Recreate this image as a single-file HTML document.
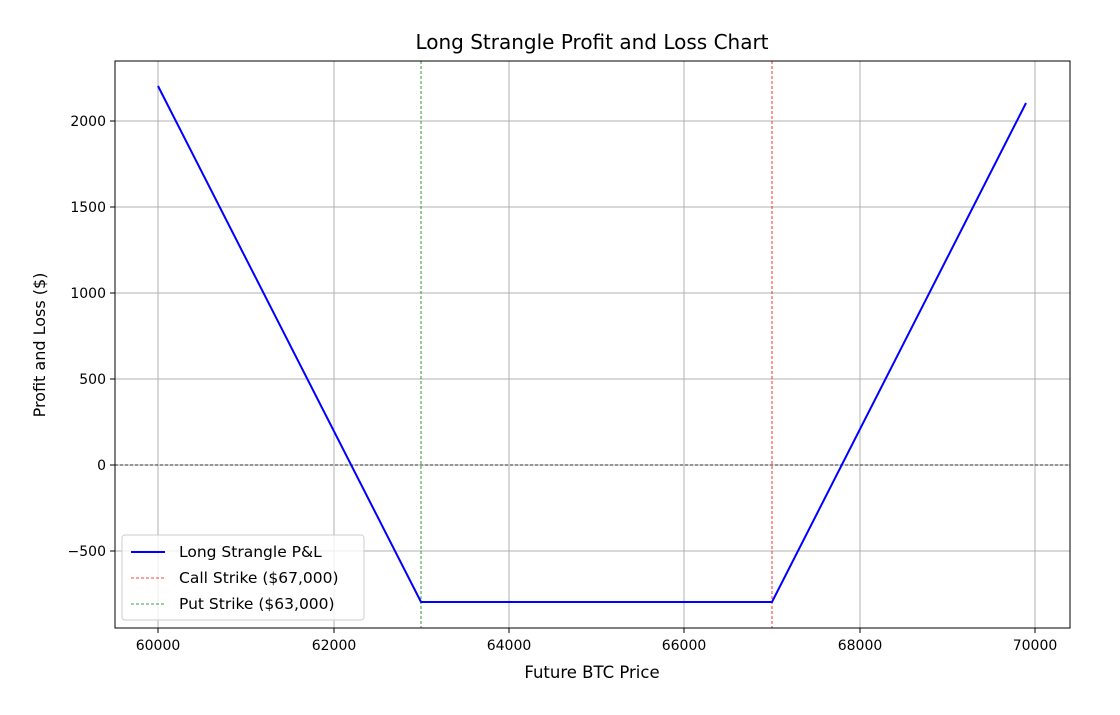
<!DOCTYPE html>
<html><head><meta charset="utf-8"><style>
body{margin:0;background:#fff}
svg text{font-family:"DejaVu Sans","Liberation Sans",sans-serif;fill:#000}
</style></head><body>
<svg width="1120" height="710" viewBox="0 0 1120 710" xmlns="http://www.w3.org/2000/svg">
<rect width="1120" height="710" fill="#fff"/>
<g stroke="#b0b0b0" stroke-width="1">
<line x1="158" y1="61" x2="158" y2="628"/>
<line x1="334" y1="61" x2="334" y2="628"/>
<line x1="509" y1="61" x2="509" y2="628"/>
<line x1="684" y1="61" x2="684" y2="628"/>
<line x1="860" y1="61" x2="860" y2="628"/>
<line x1="1035" y1="61" x2="1035" y2="628"/>
<line x1="115" y1="121" x2="1070" y2="121"/>
<line x1="115" y1="207" x2="1070" y2="207"/>
<line x1="115" y1="293" x2="1070" y2="293"/>
<line x1="115" y1="379" x2="1070" y2="379"/>
<line x1="115" y1="465" x2="1070" y2="465"/>
<line x1="115" y1="551" x2="1070" y2="551"/>
</g>
<line x1="115" y1="465" x2="1070" y2="465" stroke="#000" stroke-width="0.8" stroke-dasharray="3,2"/>
<line x1="772" y1="61" x2="772" y2="628" stroke="#ff0000" stroke-width="0.8" stroke-dasharray="3,2"/>
<line x1="421" y1="61" x2="421" y2="628" stroke="#008000" stroke-width="0.8" stroke-dasharray="3,2"/>
<polyline points="158,86 421,602 772,602 1026,103" fill="none" stroke="#0000ff" stroke-width="2"/>
<rect x="115" y="61" width="955" height="567" fill="none" stroke="#000" stroke-width="1"/>
<g stroke="#000">
<line x1="158" y1="628" x2="158" y2="633"/><line x1="334" y1="628" x2="334" y2="633"/><line x1="509" y1="628" x2="509" y2="633"/><line x1="684" y1="628" x2="684" y2="633"/><line x1="860" y1="628" x2="860" y2="633"/><line x1="1035" y1="628" x2="1035" y2="633"/>
<line x1="110" y1="121" x2="115" y2="121"/><line x1="110" y1="207" x2="115" y2="207"/><line x1="110" y1="293" x2="115" y2="293"/><line x1="110" y1="379" x2="115" y2="379"/><line x1="110" y1="465" x2="115" y2="465"/><line x1="110" y1="551" x2="115" y2="551"/>
</g>
<g font-size="14" text-anchor="middle">
<text x="158" y="650">60000</text><text x="334" y="650">62000</text><text x="509" y="650">64000</text><text x="684" y="650">66000</text><text x="860" y="650">68000</text><text x="1035" y="650">70000</text>
</g>
<g font-size="14" text-anchor="end">
<text x="106" y="126">2000</text><text x="106" y="212">1500</text><text x="106" y="298">1000</text><text x="106" y="384">500</text><text x="106" y="470">0</text><text x="106" y="556">−500</text>
</g>
<text x="592" y="678" font-size="16.5" text-anchor="middle">Future BTC Price</text>
<text x="45" y="345" font-size="16" text-anchor="middle" transform="rotate(-90 45 345)">Profit and Loss ($)</text>
<text x="592" y="49" font-size="20" text-anchor="middle">Long Strangle Profit and Loss Chart</text>
<rect x="122" y="535" width="242" height="85" rx="3" fill="#fff" fill-opacity="0.8" stroke="#ccc"/>
<line x1="131" y1="552" x2="165" y2="552" stroke="#0000ff" stroke-width="2"/>
<line x1="131" y1="578" x2="165" y2="578" stroke="#ff0000" stroke-width="0.8" stroke-dasharray="3,2"/>
<line x1="131" y1="604" x2="165" y2="604" stroke="#008000" stroke-width="0.8" stroke-dasharray="3,2"/>
<g font-size="15.5"><text x="179" y="557">Long Strangle P&amp;L</text><text x="179" y="583">Call Strike ($67,000)</text><text x="179" y="609">Put Strike ($63,000)</text></g>
</svg>
</body></html>
